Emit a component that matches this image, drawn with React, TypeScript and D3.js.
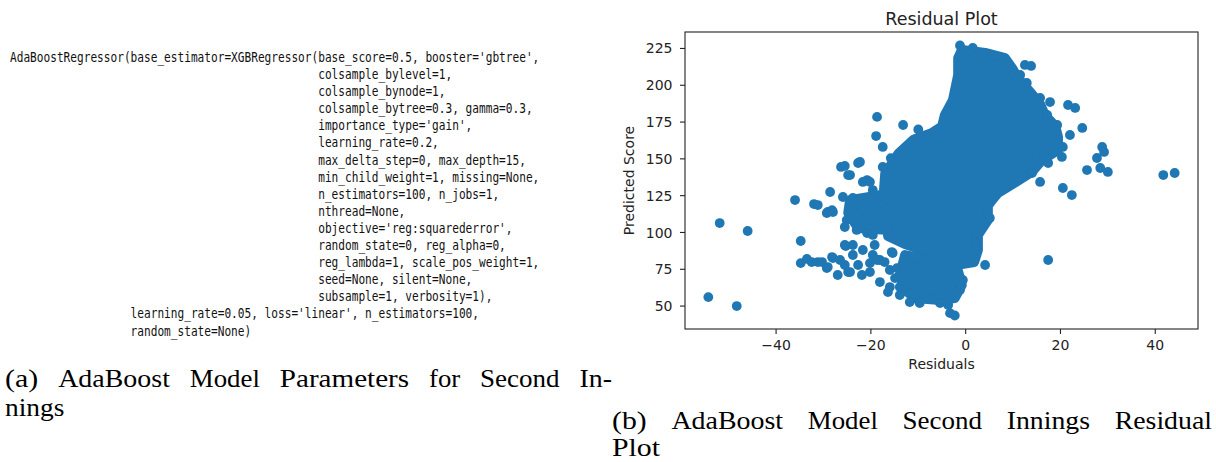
import React from "react";
import * as d3 from "d3";

// ---- scatter data (residual, predicted score) ----
const residuals = [
  -54.3, -48.3, -51.9, -46.0, -34.8, -36.0, -32.0, -31.2, -29.1, -28.2, -28.6, -25.5, -26.3, -24.4,
  -22.7, -20.8, -19.6, -18.9, -18.7, -17.5, -13.2, -17.5, -22.3, -24.8, -29.3, -28.0, -25.9, -23.8,
  -25.1, -25.5, -23.0, -20.8, -19.6, -21.7, -20.2, -23.0, -21.7, -18.1, -16.6, -20.2, -25.5, -28.2,
  -29.3, -27.0, -24.4, -21.9, -21.7, -23.8, -26.5, -19.6, -18.1, -20.2, -15.6, -16.0, -14.5, -18.1,
  -16.0, -13.9, -13.9, -11.8, -9.7, -7.5, -5.4, -3.7, -3.3, -2.3, -1.2, -0.6, -30.3, -34.8, -33.5,
  -31.2, -29.1, -28.0, -24.8, -25.3, -18.7, -15.4, -1.2, 12.5, 13.8, 21.6, 23.1, 24.6, 22.0, 20.5,
  20.3, 17.4, 15.1, 17.2, 19.3, 18.4, 27.7, 28.8, 29.2, 25.6, 28.4, 30.0, 41.7, 44.1, 20.5, 22.4,
  15.7, 17.4, 4.1, 5.1, 5.1, 2.4, 2.4, 14.0, 15.7, 17.8, 11.5, 12.9, 1.5,
  -17.1, -14.9, -20.2, -22.7, -25.5, -32.5, -16.4, -23.8, -19.2, -10.0, -15.8,
];
const predicted = [
  56.1, 50.0, 106.4, 101.0, 94.2, 122.0, 119.3, 118.6, 113.9, 115.2, 127.5, 145.2, 144.5, 139.0,
  147.2, 135.6, 128.8, 165.5, 178.5, 158.1, 173.0, 144.5, 147.9, 139.0, 113.2, 113.9, 124.1, 123.4,
  108.4, 103.7, 101.7, 99.6, 98.3, 134.3, 134.3, 113.2, 115.2, 120.0, 113.2, 108.4, 91.5, 83.3,
  75.8, 71.1, 73.1, 71.1, 88.1, 84.7, 81.3, 84.7, 81.3, 79.2, 86.7, 74.5, 75.8, 66.3,
  62.9, 62.9, 57.5, 52.7, 52.0, 55.4, 52.0, 50.7, 45.2, 43.6, 60.9, 67.7, 79.9, 79.2, 82.0,
  79.9, 76.5, 82.6, 73.1, 90.8, 81.3, 86.0, 227.0, 213.8, 213.1, 186.6, 184.6, 171.0, 166.2, 158.1,
  151.3, 147.2, 149.2, 179.8, 173.0, 162.8, 150.6, 158.1, 154.7, 142.4, 143.8, 141.1, 139.0, 140.4, 130.2, 125.4,
  134.3, 81.3, 77.9, 120.0, 109.8, 99.6, 90.1, 140.4, 191.4, 188.6, 207.0, 201.6, 225.3,
  79.9, 69.0, 73.1, 77.9, 77.9, 79.9, 59.5, 91.5, 91.5, 170.0, 150.5,
];

// outlines (marker centres) of the overplotted, fully covered regions
const coreResid = [
  -0.8, 4.1, 8.3, 9.8, 11.0, 13.6, 15.7, 16.7, 18.9, 19.5, 19.5, 16.1, 14.0, 11.0, 6.8, 4.7, 4.7,
  2.6, 2.6, 1.8, -0.8, -6.5, -12.8, -16.4, -16.4, -17.4, -17.0, -14.2, -11.0, -7.2, -5.0, -4.4, -2.7,
  -1.6, -1.6,
];
const corePred = [
  224.0, 222.0, 218.5, 211.7, 205.0, 195.4, 187.3, 179.8, 172.3, 164.9, 156.0, 149.2, 141.1, 135.0,
  126.8, 118.6, 108.4, 98.3, 88.1, 79.9, 78.5, 85.3, 92.1, 97.6, 103.0, 122.0, 140.0, 153.5, 163.0,
  167.5, 172.0, 179.8, 190.0, 207.0, 218.5,
];
const leftResid = [-24.4, -18.1, -16.8, -22.7, -24.8];
const leftPred = [122.0, 125.4, 101.7, 103.0, 113.2];
const lowResid = [-12.8, -7.5, -1.6, -0.8, -2.3, -5.4, -10.7, -12.8, -13.9];
const lowPred = [84.7, 81.3, 73.8, 64.3, 55.4, 54.1, 55.4, 60.9, 71.1];

const xTicks = [-40, -20, 0, 20, 40];
const yTicks = [50, 75, 100, 125, 150, 175, 200, 225];

// ---- left panel: printed model parameters ----
const paramIndent = [0, 46, 46, 46, 46, 46, 46, 46, 46, 46, 46, 46, 46, 46, 46, 18, 18];
const paramText = [
  "AdaBoostRegressor(base_estimator=XGBRegressor(base_score=0.5, booster='gbtree',",
  "colsample_bylevel=1,",
  "colsample_bynode=1,",
  "colsample_bytree=0.3, gamma=0.3,",
  "importance_type='gain',",
  "learning_rate=0.2,",
  "max_delta_step=0, max_depth=15,",
  "min_child_weight=1, missing=None,",
  "n_estimators=100, n_jobs=1,",
  "nthread=None,",
  "objective='reg:squarederror',",
  "random_state=0, reg_alpha=0,",
  "reg_lambda=1, scale_pos_weight=1,",
  "seed=None, silent=None,",
  "subsample=1, verbosity=1),",
  "learning_rate=0.05, loss='linear', n_estimators=100,",
  "random_state=None)",
];

const captionA1 = ["(a)", "AdaBoost", "Model", "Parameters", "for", "Second", "In-"];
const captionA2 = ["nings"];
const captionB1 = ["(b)", "AdaBoost", "Model", "Second", "Innings", "Residual"];
const captionB2 = ["Plot"];

// Computer Modern roman advance widths (em), used to size the caption words
const cmr: Record<string, number> = {
  "(": 0.389, ")": 0.389, "-": 0.333, a: 0.5, b: 0.556, c: 0.444, d: 0.556, e: 0.444, f: 0.306,
  g: 0.5, i: 0.278, l: 0.278, m: 0.833, n: 0.556, o: 0.5, r: 0.392, s: 0.394, t: 0.389, u: 0.556,
  A: 0.75, B: 0.708, I: 0.361, M: 0.917, P: 0.681, R: 0.736, S: 0.556,
};

const W = 1216;
const H = 462;
const box = { left: 685, right: 1198, top: 32, bottom: 329 };
const blue = "#1f77b4";
const markerR = 4.9;
const sans = "'DejaVu Sans', sans-serif";

function padded(vals: number[]): [number, number] {
  const [lo, hi] = d3.extent(vals) as [number, number];
  const m = (hi - lo) * 0.05;
  return [lo - m, hi + m];
}

function Caption({ words, x0, x1, y, size }: { words: string[]; x0: number; x1?: number; y: number; size: number }) {
  const widths = words.map((w) => d3.sum(w.split(""), (c) => cmr[c] ?? 0.5) * size);
  const gap = x1 != null && words.length > 1 ? (x1 - x0 - d3.sum(widths)) / (words.length - 1) : 0;
  let cx = x0;
  return (
    <g>
      {words.map((w, i) => {
        const el = (
          <text key={i} x={cx} y={y} textLength={widths[i]} lengthAdjust="spacingAndGlyphs">
            {w}
          </text>
        );
        cx += widths[i] + gap;
        return el;
      })}
    </g>
  );
}

export default function App() {
  const x = d3.scaleLinear().domain(padded(residuals)).range([box.left, box.right]);
  const y = d3.scaleLinear().domain(padded(predicted)).range([box.bottom, box.top]);
  const fmt = d3.format("d");

  const hull = (rs: number[], ps: number[]) =>
    d3
      .line<number>()
      .x((i) => x(rs[i]))
      .y((i) => y(ps[i]))
      .curve(d3.curveLinearClosed)(d3.range(rs.length)) || "";

  // condensed monospace: squeeze DejaVu Sans Mono horizontally
  const monoSize = 13.5;
  const charW = 6.7;
  const sx = charW / (0.602 * monoSize);
  return (
    <div>
      <style>{"body{margin:0}"}</style>
      <svg width={W} height={H} style={{ display: "block", background: "#fff" }}>
        {/* parameters text */}
        <g
          transform={`scale(${sx},1)`}
          fontFamily="'DejaVu Sans Mono', monospace"
          fontSize={monoSize}
          fill="#111"
        >
          {paramText.map((t, i) => (
            <text
              key={i}
              x={(10 + paramIndent[i] * charW) / sx}
              y={62 + i * 17.1}
              textLength={(t.length * charW) / sx}
              lengthAdjust="spacingAndGlyphs"
            >
              {t}
            </text>
          ))}
        </g>

        {/* scatter */}
        <g fill={blue} stroke={blue} strokeWidth={markerR * 2} strokeLinejoin="round">
          <path d={hull(coreResid, corePred)} />
          <path d={hull(leftResid, leftPred)} />
          <path d={hull(lowResid, lowPred)} />
        </g>
        <g fill={blue}>
          {residuals.map((r, i) => (
            <circle key={i} cx={x(r)} cy={y(predicted[i])} r={markerR} />
          ))}
        </g>

        {/* frame */}
        <rect
          x={box.left}
          y={box.top}
          width={box.right - box.left}
          height={box.bottom - box.top}
          fill="none"
          stroke="#222"
          strokeWidth={1.1}
        />

        {/* ticks */}
        <g fontFamily={sans} fontSize={14} fill="#222">
          {xTicks.map((t) => (
            <g key={t}>
              <line x1={x(t)} x2={x(t)} y1={box.bottom} y2={box.bottom + 5} stroke="#222" strokeWidth={1.1} />
              <text x={x(t)} y={349.5} textAnchor="middle">
                {fmt(t)}
              </text>
            </g>
          ))}
          {yTicks.map((t) => (
            <g key={t}>
              <line x1={box.left - 5} x2={box.left} y1={y(t)} y2={y(t)} stroke="#222" strokeWidth={1.1} />
              <text x={672.5} y={y(t)} dy="0.36em" textAnchor="end">
                {fmt(t)}
              </text>
            </g>
          ))}
          <text x={(box.left + box.right) / 2} y={369} textAnchor="middle">
            Residuals
          </text>
          <text transform={`translate(634,${(box.top + box.bottom) / 2}) rotate(-90)`} textAnchor="middle">
            Predicted Score
          </text>
          <text x={(box.left + box.right) / 2} y={25} textAnchor="middle" fontSize={17.5}>
            Residual Plot
          </text>
        </g>

        {/* captions */}
        <g fontFamily="'Liberation Serif', 'DejaVu Serif', serif" fontSize={26} fill="#000">
          <Caption words={captionA1} x0={5} x1={612} y={387} size={26} />
          <Caption words={captionA2} x0={5} y={416} size={26} />
          <Caption words={captionB1} x0={612} x1={1212} y={429} size={26} />
          <Caption words={captionB2} x0={612} y={456} size={26} />
        </g>
      </svg>
    </div>
  );
}
